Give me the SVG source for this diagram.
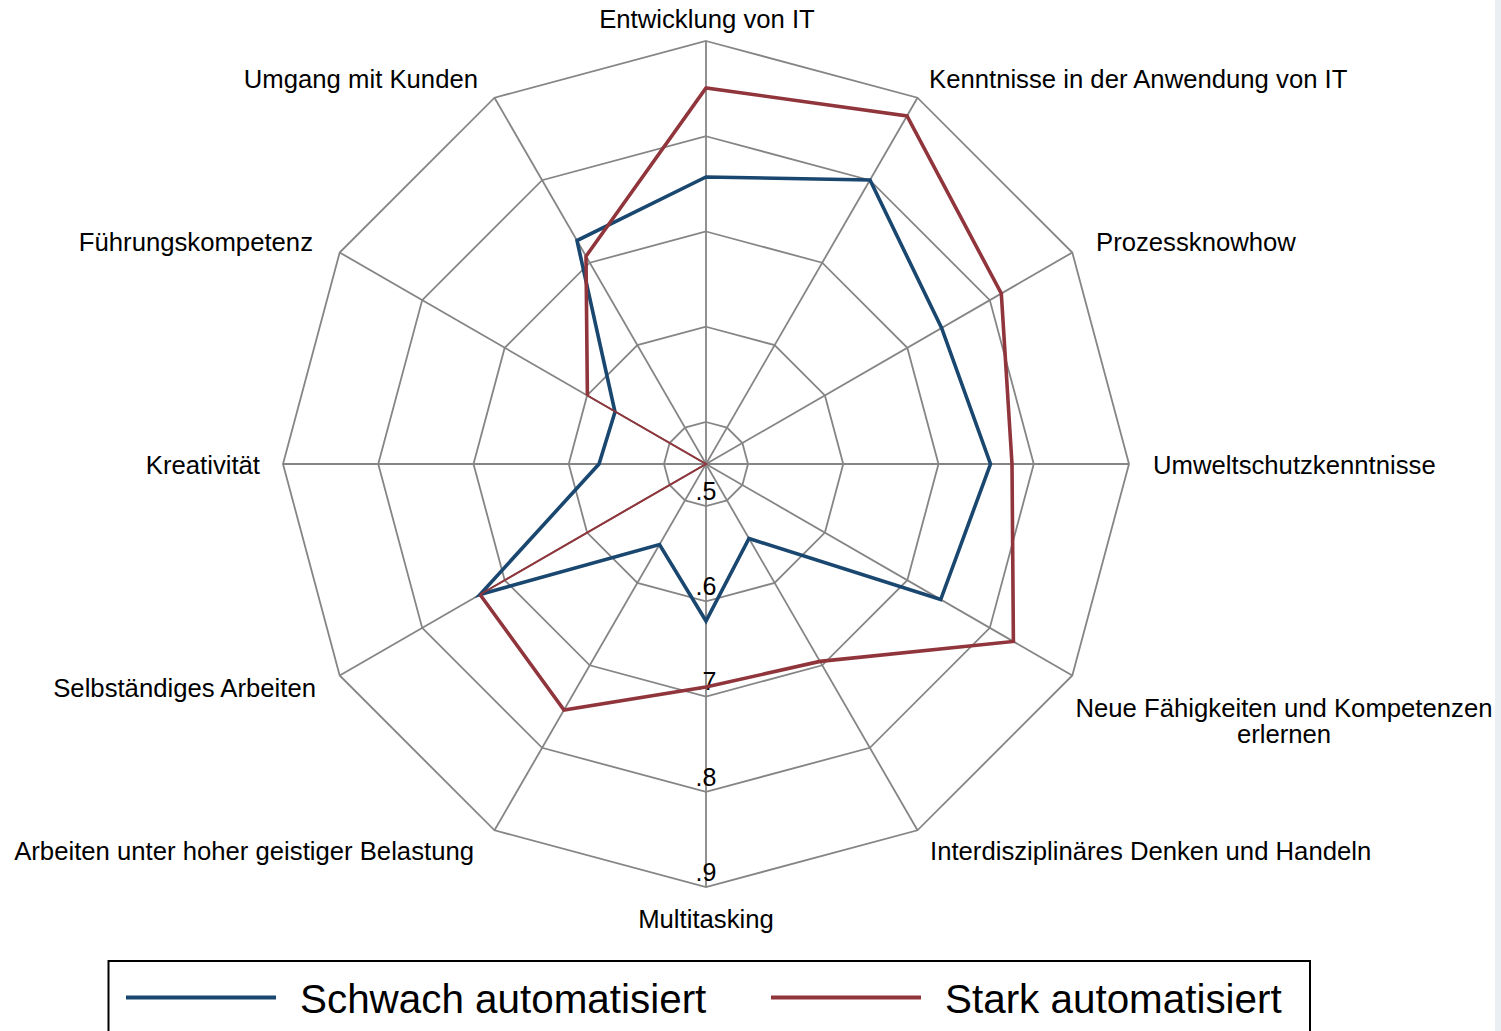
<svg xmlns="http://www.w3.org/2000/svg" width="1501" height="1031" viewBox="0 0 1501 1031">
<style>
.grid{fill:none;stroke:#858585;stroke-width:1.8;stroke-linejoin:miter}
.lbl{font-family:"Liberation Sans",Arial,sans-serif;font-size:25.7px;fill:#000}
.tick{font-family:"Liberation Sans",Arial,sans-serif;font-size:25px;fill:#000;text-anchor:middle}
.leg{font-family:"Liberation Sans",Arial,sans-serif;font-size:40.4px;fill:#000}
.blue{fill:none;stroke:#1a476f;stroke-width:3.6;stroke-linejoin:miter}
.red{fill:none;stroke:#90353b;stroke-width:3.6;stroke-linejoin:miter}
</style>
<rect x="0" y="0" width="1501" height="1031" fill="#ffffff"/>
<rect x="1495" y="0" width="6" height="1031" fill="#e9eff3"/>
<g id="grid">
<polygon class="grid" points="706,41 917.5,97.7 1072.3,252.5 1129,464 1072.3,675.5 917.5,830.3 706,887 494.5,830.3 339.7,675.5 283,464 339.7,252.5 494.5,97.7"/>
<polygon class="grid" points="706,136.25 869.9,180.2 989.8,300.1 1033.75,464 989.8,627.9 869.9,747.8 706,791.75 542.1,747.8 422.2,627.9 378.25,464 422.2,300.1 542.1,180.2"/>
<polygon class="grid" points="706,231.5 822.25,262.7 907.3,347.75 938.5,464 907.3,580.25 822.25,665.3 706,696.5 589.75,665.3 504.7,580.25 473.5,464 504.7,347.75 589.75,262.7"/>
<polygon class="grid" points="706,326.75 774.6,345.1 824.9,395.4 843.25,464 824.9,532.6 774.6,582.9 706,601.25 637.4,582.9 587.1,532.6 568.75,464 587.1,395.4 637.4,345.1"/>
<polygon class="grid" points="706,422 727,427.6 742.4,443 748,464 742.4,485 727,500.4 706,506 685,500.4 669.6,485 664,464 669.6,443 685,427.6"/>
<line class="grid" x1="706" y1="41" x2="706" y2="887"/>
<line class="grid" x1="917.5" y1="97.7" x2="494.5" y2="830.3"/>
<line class="grid" x1="1072.3" y1="252.5" x2="339.7" y2="675.5"/>
<line class="grid" x1="1129" y1="464" x2="283" y2="464"/>
<line class="grid" x1="1072.3" y1="675.5" x2="339.7" y2="252.5"/>
<line class="grid" x1="917.5" y1="830.3" x2="494.5" y2="97.7"/>
</g>
<g id="ticks">
<text class="tick" x="706" y="500">.5</text>
<text class="tick" x="706" y="595">.6</text>
<text class="tick" x="706" y="690">.7</text>
<text class="tick" x="706" y="786">.8</text>
<text class="tick" x="706" y="881">.9</text>
</g>
<g id="connectors">
<polygon id="series-schwach" class="blue" points="706,177 870,180 941.6,328 990.5,464 940.7,599.5 749,538.5 706,621 659.5,544.5 480,594.5 599,464 615,412 577,240.6"/>
<polyline id="series-stark" class="red" points="480,594.5 564,710 706,687 820,661.4 1013.4,641.5 1012,464 1001.3,293.5 907,115.9 706,88 586,256.2 587.4,395.5"/>
<polyline class="red" style="stroke-width:2" points="587.4,395.5 706,464 480,594.5"/>
</g>
<g id="labels">
<text id="n0" class="lbl" x="707" y="28" text-anchor="middle">Entwicklung von IT</text>
<text id="n1" class="lbl" x="929" y="88">Kenntnisse in der Anwendung von IT</text>
<text id="n2" class="lbl" x="1096" y="251">Prozessknowhow</text>
<text id="n3" class="lbl" x="1153" y="474">Umweltschutzkenntnisse</text>
<text id="n4" class="lbl" x="1284" y="717" text-anchor="middle">Neue Fähigkeiten und Kompetenzen<tspan x="1284" y="743">erlernen</tspan></text>
<text id="n5" class="lbl" x="930" y="860">Interdisziplinäres Denken und Handeln</text>
<text id="n6" class="lbl" x="706" y="928" text-anchor="middle">Multitasking</text>
<text id="n7" class="lbl" x="474" y="860" text-anchor="end">Arbeiten unter hoher geistiger Belastung</text>
<text id="n8" class="lbl" x="316" y="697" text-anchor="end">Selbständiges Arbeiten</text>
<text id="n9" class="lbl" x="260" y="474" text-anchor="end">Kreativität</text>
<text id="n10" class="lbl" x="313" y="251" text-anchor="end">Führungskompetenz</text>
<text id="n11" class="lbl" x="478" y="88" text-anchor="end">Umgang mit Kunden</text>
</g>
<g id="legend">
<rect x="108.5" y="961" width="1201.5" height="90" fill="none" stroke="#000" stroke-width="2"/>
<line x1="126" y1="997.5" x2="276" y2="997.5" stroke="#1a476f" stroke-width="4"/>
<text class="leg" x="300" y="1013">Schwach automatisiert</text>
<line x1="771" y1="997.5" x2="921" y2="997.5" stroke="#90353b" stroke-width="4"/>
<text class="leg" x="945" y="1013">Stark automatisiert</text>
</g>
</svg>
